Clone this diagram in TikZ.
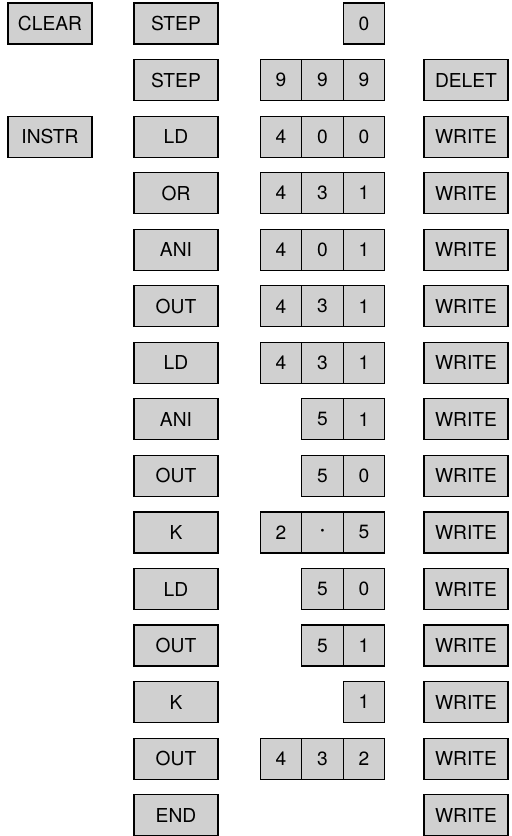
\documentclass[tikz,border=0pt]{standalone}
\usepackage{fontspec}
\setmainfont{TeX Gyre Heros}
\usepackage{tikz}
\definecolor{keyG}{RGB}{208,208,208}
\tikzset{key/.style={draw, line width=0.6pt, fill=keyG, minimum width=42pt, minimum height=20.5pt,
  inner sep=0pt, font=\fontsize{9.6}{11}\selectfont},
  cell/.style={key, minimum width=20.75pt}}

\begin{document}
\begin{tikzpicture}[x=0.5pt, y=-0.5pt]
  \useasboundingbox (0,0) rectangle (512,836);
  % function keys, left column
  \node[key] (clear) at (50,23.5) {CLEAR};
  \node[key] (instr) at (50,{23.5+56.55*2}) {INSTR};
  % instruction keys
  \foreach \r/\t in {0/STEP,1/STEP,2/LD,3/OR,4/ANI,5/OUT,6/LD,7/ANI,8/OUT,9/K,10/LD,11/OUT,12/K,13/OUT,14/END}
    \node[key] (ins\r) at (176,{23.5+56.55*\r}) {\t};
  % address and data digits
  \foreach \r/\c/\d in {0/3/0, 1/1/9,1/2/9,1/3/9, 2/1/4,2/2/0,2/3/0, 3/1/4,3/2/3,3/3/1,
      4/1/4,4/2/0,4/3/1, 5/1/4,5/2/3,5/3/1, 6/1/4,6/2/3,6/3/1, 7/2/5,7/3/1, 8/2/5,8/3/0,
      9/1/2,9/2/{\textbf{\textperiodcentered}},9/3/5, 10/2/5,10/3/0, 11/2/5,11/3/1, 12/3/1, 13/1/4,13/2/3,13/3/2}
    \node[cell] (d\r-\c) at ({239.5+41.5*\c},{23.5+56.55*\r}) {\d};
  % right column
  \node[key] (delet) at (466,{23.5+56.55}) {DELET};
  \foreach \r in {2,...,14}
    \node[key] (wr\r) at (466,{23.5+56.55*\r}) {WRITE};
\end{tikzpicture}
\end{document}
